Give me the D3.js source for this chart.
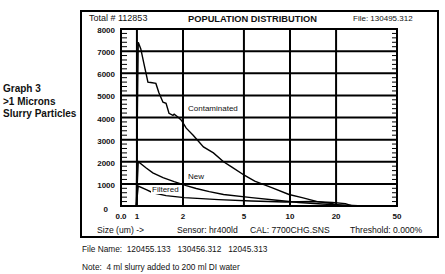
<!DOCTYPE html>
<html>
<head>
<meta charset="utf-8">
<script src="https://cdn.jsdelivr.net/npm/d3@7"></script>
<style>
  body { margin: 0; background: #fff; }
  text { font-family: "Liberation Sans", Arial, sans-serif; fill: #111; }
</style>
</head>
<body>
<svg id="chart"></svg>
<script>
// size (um) vs count
const contaminated = [[0.99,0],[1.02,7400],[1.06,7100],[1.11,6450],[1.18,5600],[1.23,5580],[1.33,5540],
  [1.39,5130],[1.48,4690],[1.55,4640],[1.62,4190],[1.72,4100],[1.75,4150],[1.86,4010],[1.95,3880],
  [2.1,3520],[2.33,3200],[2.72,2670],[3.16,2400],[3.68,2000],[4.15,1770],[5.06,1380],[5.88,1120],
  [7.6,830],[9.85,520],[12,380],[15.1,200],[18.9,110],[21,0]];
const newCurve = [[0.99,0],[1.02,2000],[1.15,1720],[1.27,1500],[1.48,1280],[1.75,1100],[2.1,920],
  [2.44,790],[2.97,650],[3.68,520],[5.6,380],[8.5,250],[11.4,160],[16.2,90],[22,45],[30,0]];
const filtered = [[0.99,0],[1.02,900],[1.15,740],[1.27,600],[1.55,470],[2.04,380],[3.41,290],
  [5.6,225],[9.3,180],[13.9,200],[18.9,160],[23,110],[25.5,0]];

const xTicks = [1, 2, 5, 10, 20, 50];
const xTickLabels = ["1", "2", "5", "10", "20", "50"];
const yTicks = [0, 1000, 2000, 3000, 4000, 5000, 6000, 7000, 8000];
const sideLines = ["Graph 3", ">1 Microns", "Slurry Particles"];
const footLines = ["File Name:  120455.133   130456.312   12045.313",
  "Note:  4 ml slurry added to 200 ml DI water"];

const width = 445, height = 274;
const svg = d3.select("#chart").attr("width", width).attr("height", height);

const x = d3.scaleLog().domain([0.787, 50]).range([121, 397]);
const y = d3.scaleLinear().domain([0, 8000]).range([206, 29]);

// outer frame
svg.append("rect")
  .attr("x", 81).attr("y", 11).attr("width", 357).attr("height", 226)
  .attr("fill", "none").attr("stroke", "#000").attr("stroke-width", 2);

// grid
const grid = svg.append("g");
grid.selectAll("line.h").data(yTicks.slice(1, -1)).join("line")
  .attr("x1", x.range()[0]).attr("x2", x.range()[1])
  .attr("y1", d => y(d)).attr("y2", d => y(d))
  .attr("stroke", "#000").attr("stroke-width", 2);
grid.selectAll("line.v").data(xTicks.slice(0, -1)).join("line")
  .attr("x1", d => x(d)).attr("x2", d => x(d))
  .attr("y1", y.range()[0]).attr("y2", y.range()[1])
  .attr("stroke", "#000").attr("stroke-width", 2);

// minor ticks, left and right
const minor = d3.range(0, 8001, 200);
svg.append("g").selectAll("line").data(minor).join("line")
  .attr("x1", x.range()[0]).attr("x2", d => x.range()[0] + (d % 1000 === 0 ? 0 : 6))
  .attr("y1", d => y(d)).attr("y2", d => y(d))
  .attr("stroke", "#000").attr("stroke-width", 1);
svg.append("g").selectAll("line").data(minor).join("line")
  .attr("x1", x.range()[1]).attr("x2", d => x.range()[1] - (d % 1000 === 0 ? 0 : 5))
  .attr("y1", d => y(d)).attr("y2", d => y(d))
  .attr("stroke", "#000").attr("stroke-width", 1);

// plot border
svg.append("rect")
  .attr("x", x.range()[0]).attr("y", y.range()[1])
  .attr("width", x.range()[1] - x.range()[0]).attr("height", y.range()[0] - y.range()[1])
  .attr("fill", "none").attr("stroke", "#000").attr("stroke-width", 2);

// curves
const line = d3.line().x(d => x(d[0])).y(d => y(d[1]));
[contaminated, newCurve, filtered].forEach(s => {
  svg.append("path").datum(s).attr("d", line)
    .attr("fill", "none").attr("stroke", "#000").attr("stroke-width", 1.4);
});

// y labels
svg.append("g").selectAll("text").data(yTicks).join("text")
  .attr("x", d => d === 0 ? 108 : 115)
  .attr("y", d => d === 0 ? y(d) + 6 : y(d) + 4)
  .attr("text-anchor", "end")
  .style("font-size", "8px").style("font-weight", "bold")
  .text(d => d);

// x labels
svg.append("g").selectAll("text").data(xTicks).join("text")
  .attr("x", d => x(d)).attr("y", 219)
  .attr("text-anchor", "middle")
  .style("font-size", "8px").style("font-weight", "bold")
  .text((d, i) => xTickLabels[i]);
svg.append("text").attr("x", x(0.787)).attr("y", 219).attr("text-anchor", "middle")
  .style("font-size", "8px").style("font-weight", "bold").text("0.0");

// curve labels
svg.append("rect").attr("x", 151).attr("y", 185).attr("width", 31).attr("height", 9).attr("fill", "#fff");
[["Contaminated", 188, 111], ["New", 188, 179], ["Filtered", 152, 192]].forEach(t => {
  svg.append("text").attr("x", t[1]).attr("y", t[2])
    .style("font-size", "8px").text(t[0]);
});

// header
svg.append("text").attr("x", 89).attr("y", 21).style("font-size", "9px").text("Total # 112853");
svg.append("text").attr("x", 188).attr("y", 22).style("font-size", "9.3px").style("font-weight", "bold")
  .text("POPULATION DISTRIBUTION");
svg.append("text").attr("x", 353).attr("y", 21).style("font-size", "8px").text("File: 130495.312");

// bottom strip inside frame
[["Size (um) ->", 97], ["Sensor: hr400ld", 177], ["CAL: 7700CHG.SNS", 250], ["Threshold: 0.000%", 350]]
  .forEach(t => {
    svg.append("text").attr("x", t[1]).attr("y", 233).style("font-size", "8.6px").text(t[0]);
  });

// side caption
svg.append("g").selectAll("text").data(sideLines).join("text")
  .attr("x", 3).attr("y", (d, i) => 92 + i * 12.5)
  .style("font-size", "10px").style("font-weight", "bold")
  .text(d => d);

// footer
svg.append("g").selectAll("text").data(footLines).join("text")
  .attr("x", 82).attr("y", (d, i) => 252 + i * 18)
  .style("font-size", "8.3px")
  .attr("xml:space", "preserve").style("white-space", "pre")
  .text(d => d);
</script>
</body>
</html>
